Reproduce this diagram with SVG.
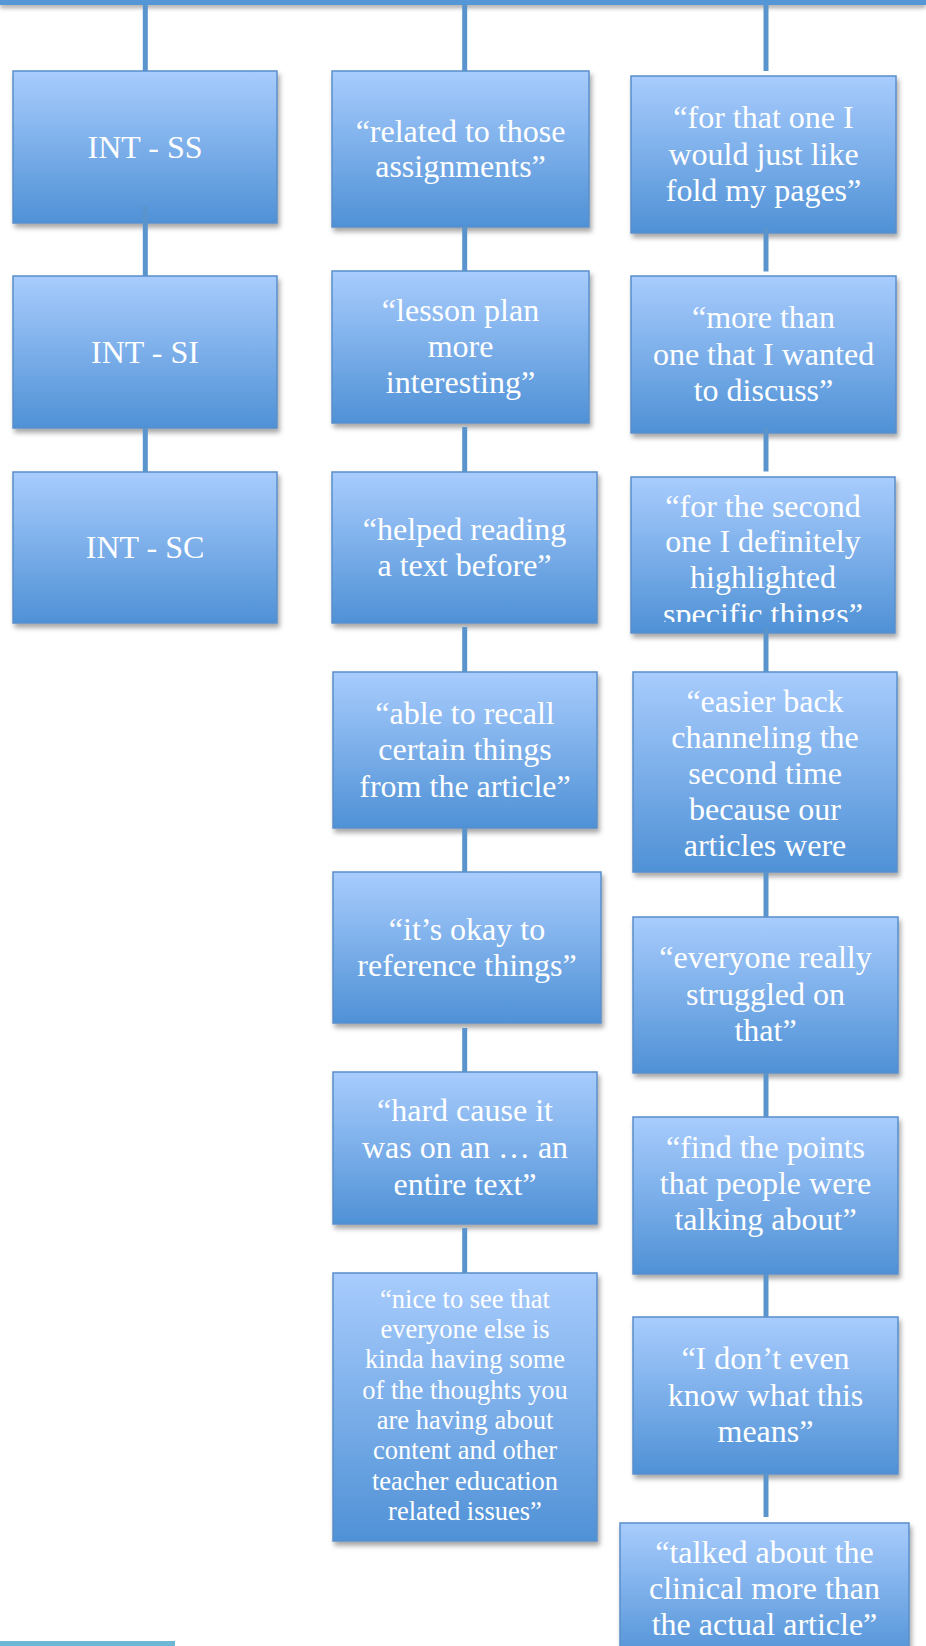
<svg xmlns="http://www.w3.org/2000/svg" width="926" height="1646" viewBox="0 0 926 1646">
<style>
.box{fill:url(#g);stroke:#5a8fca;stroke-width:1.5;filter:url(#sh)}
.t{font-family:"Liberation Serif","Times New Roman",serif;font-size:32px;fill:#ffffff;text-anchor:middle}
.s{font-size:26.5px}
.c{stroke:#5a94cd;stroke-width:5;fill:none}
</style>
<defs>
<linearGradient id="g" x1="0" y1="0" x2="0" y2="1">
<stop offset="0" stop-color="#a8ccfd"/>
<stop offset="1" stop-color="#4f91d6"/>
</linearGradient>
<filter id="sh" x="-10%" y="-10%" width="125%" height="125%">
<feDropShadow dx="2" dy="4" stdDeviation="2.5" flood-color="#000" flood-opacity="0.35"/>
</filter>
<filter id="sh2" x="-10%" y="-100%" width="120%" height="400%">
<feDropShadow dx="0" dy="3" stdDeviation="2" flood-color="#000" flood-opacity="0.35"/>
</filter>
<clipPath id="clip3"><rect x="631" y="477" width="265" height="145"/></clipPath>
</defs>
<rect width="926" height="1646" fill="#ffffff"/>
<rect x="0" y="0" width="926" height="5" fill="#5596d6" filter="url(#sh2)"/>
<rect x="0" y="1641" width="175" height="5" fill="#6fb7d7"/>

<g id="n-int-ss"><rect class="box" x="13" y="71" width="264" height="152"/><text class="t" x="145" y="157.5">INT - SS</text></g>
<g id="n-int-si"><rect class="box" x="13" y="276" width="264" height="152"/><text class="t" x="145" y="362.5">INT - SI</text></g>
<g id="n-int-sc"><rect class="box" x="13" y="472" width="264" height="151"/><text class="t" x="145" y="558">INT - SC</text></g>

<g id="n-b1"><rect class="box" x="332" y="71" width="257" height="156"/><text class="t" x="460.5"><tspan x="460.5" y="141.5">“related to those</tspan><tspan x="460.5" y="177.3">assignments”</tspan></text></g>
<g id="n-b2"><rect class="box" x="332" y="271" width="257" height="152"/><text class="t"><tspan x="460.5" y="320.5">“lesson plan</tspan><tspan x="460.5" y="356.5">more</tspan><tspan x="460.5" y="392.5">interesting”</tspan></text></g>
<g id="n-b3"><rect class="box" x="332" y="472" width="265" height="151"/><text class="t"><tspan x="464.5" y="540">“helped reading</tspan><tspan x="464.5" y="575.5">a text before”</tspan></text></g>
<g id="n-b4"><rect class="box" x="333" y="672" width="264" height="156"/><text class="t"><tspan x="465" y="723.5">“able to recall</tspan><tspan x="465" y="760">certain things</tspan><tspan x="465" y="796.5">from the article”</tspan></text></g>
<g id="n-b5"><rect class="box" x="333" y="872" width="268" height="151"/><text class="t"><tspan x="467" y="940">“it’s okay to</tspan><tspan x="467" y="976">reference things”</tspan></text></g>
<g id="n-b6"><rect class="box" x="333" y="1072" width="264" height="152"/><text class="t"><tspan x="465" y="1121">“hard cause it</tspan><tspan x="465" y="1158">was on an … an</tspan><tspan x="465" y="1194.5">entire text”</tspan></text></g>
<g id="n-b7"><rect class="box" x="333" y="1273" width="264" height="268"/><text class="t s"><tspan x="465" y="1307.7">“nice to see that</tspan><tspan x="465" y="1338">everyone else is</tspan><tspan x="465" y="1368.3">kinda having some</tspan><tspan x="465" y="1398.6">of the thoughts you</tspan><tspan x="465" y="1429">are having about</tspan><tspan x="465" y="1459.2">content and other</tspan><tspan x="465" y="1489.5">teacher education</tspan><tspan x="465" y="1520">related issues”</tspan></text></g>

<g id="n-c1"><rect class="box" x="631" y="76" width="265" height="157"/><text class="t"><tspan x="763.5" y="128">“for that one I</tspan><tspan x="763.5" y="164.5">would just like</tspan><tspan x="763.5" y="201">fold my pages”</tspan></text></g>
<g id="n-c2"><rect class="box" x="631" y="276" width="265" height="157"/><text class="t"><tspan x="763.5" y="328">“more than</tspan><tspan x="763.5" y="364.5">one that I wanted</tspan><tspan x="763.5" y="401">to discuss”</tspan></text></g>
<g id="n-c3"><rect class="box" x="631" y="477" width="264" height="156"/><text class="t" clip-path="url(#clip3)"><tspan x="763" y="516.7">“for the second</tspan><tspan x="763" y="552.3">one I definitely</tspan><tspan x="763" y="588.3">highlighted</tspan><tspan x="763" y="624.5">specific things”</tspan></text></g>
<g id="n-c4"><rect class="box" x="633" y="672" width="264" height="200"/><text class="t"><tspan x="765" y="711.7">“easier back</tspan><tspan x="765" y="747.5">channeling the</tspan><tspan x="765" y="783.5">second time</tspan><tspan x="765" y="820">because our</tspan><tspan x="765" y="856">articles were</tspan></text></g>
<g id="n-c5"><rect class="box" x="633" y="917" width="265" height="156"/><text class="t"><tspan x="765.5" y="968">“everyone really</tspan><tspan x="765.5" y="1005">struggled on</tspan><tspan x="765.5" y="1041">that”</tspan></text></g>
<g id="n-c6"><rect class="box" x="633" y="1117" width="265" height="157"/><text class="t"><tspan x="765.5" y="1157.5">“find the points</tspan><tspan x="765.5" y="1193.7">that people were</tspan><tspan x="765.5" y="1230">talking about”</tspan></text></g>
<g id="n-c7"><rect class="box" x="633" y="1317" width="265" height="157"/><text class="t"><tspan x="765.5" y="1368.5">“I don’t even</tspan><tspan x="765.5" y="1405.5">know what this</tspan><tspan x="765.5" y="1442">means”</tspan></text></g>
<g id="n-c8"><rect class="box" x="620" y="1523" width="289" height="140"/><text class="t"><tspan x="764.5" y="1562.7">“talked about the</tspan><tspan x="764.5" y="1598.5">clinical more than</tspan><tspan x="764.5" y="1635">the actual article”</tspan></text></g>

<g id="connectors">
<line class="c" x1="145.3" y1="5" x2="145.3" y2="71"/>
<line class="c" x1="145.3" y1="206" x2="145.3" y2="276"/>
<line class="c" x1="145.3" y1="428" x2="145.3" y2="472"/>
<line class="c" x1="464.7" y1="5" x2="464.7" y2="71"/>
<line class="c" x1="464.7" y1="227" x2="464.7" y2="271"/>
<line class="c" x1="464.7" y1="427" x2="464.7" y2="472"/>
<line class="c" x1="464.7" y1="627" x2="464.7" y2="672"/>
<line class="c" x1="464.7" y1="828" x2="464.7" y2="872"/>
<line class="c" x1="464.7" y1="1028" x2="464.7" y2="1072"/>
<line class="c" x1="464.7" y1="1228" x2="464.7" y2="1273"/>
<line class="c" x1="766" y1="5" x2="766" y2="71"/>
<line class="c" x1="766" y1="228" x2="766" y2="271.5"/>
<line class="c" x1="766" y1="428" x2="766" y2="471.5"/>
<line class="c" x1="766" y1="627.5" x2="766" y2="672"/>
<line class="c" x1="766" y1="872" x2="766" y2="917"/>
<line class="c" x1="766" y1="1073" x2="766" y2="1117"/>
<line class="c" x1="766" y1="1274" x2="766" y2="1317"/>
<line class="c" x1="766" y1="1473" x2="766" y2="1517"/>
</g>
</svg>
